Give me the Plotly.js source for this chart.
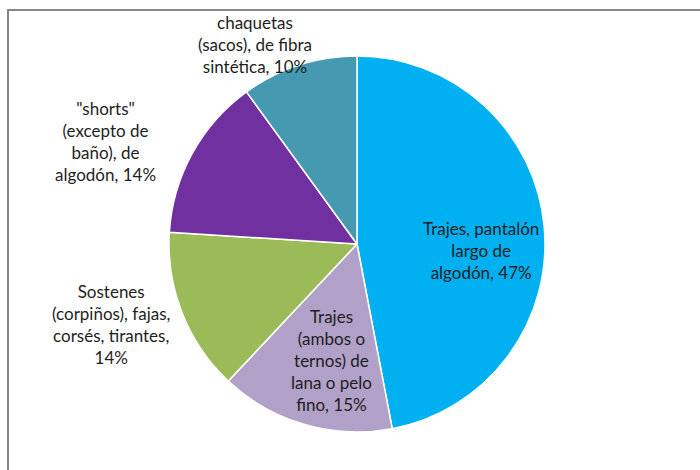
<!DOCTYPE html>
<html>
<head>
<meta charset="utf-8">
<script src="https://cdn.plot.ly/plotly-3.0.1.min.js"></script>
<style>html,body{margin:0;padding:0;background:#fff;}#chart{width:700px;height:470px;}</style>
</head>
<body>
<div id="chart"></div>
<script>
// Data
var categories = [
  "Trajes, pantalón<br>largo de<br>algodón",
  "Trajes<br>(ambos o<br>ternos) de<br>lana o pelo<br>fino",
  "Sostenes<br>(corpiños), fajas,<br>corsés, tirantes,",
  "\"shorts\"<br>(excepto de<br>baño), de<br>algodón",
  "chaquetas<br>(sacos), de fibra<br>sintética"
];
var shares = [47, 15, 14, 14, 10];
var colors = ["#00B0F0", "#B1A0C7", "#9BBB59", "#7030A0", "#4599B1"];
// label centre positions in pixels (layout only)
var labelPos = [[481, 250], [331, 360], [111, 324], [105, 141], [255, 45]];

var W = 700, H = 470;
var cx = 357, cy = 244, r = 188;

var annotations = categories.map(function (c, i) {
  var sep = (i === 2) ? "<br>" : ", ";
  return {
    text: c + sep + shares[i] + "%",
    xref: "paper", yref: "paper",
    x: labelPos[i][0] / W, y: 1 - labelPos[i][1] / H,
    xanchor: "center", yanchor: "middle",
    align: "center", showarrow: false,
    font: {family: "Lato, 'Open Sans', sans-serif", size: 17, color: "#1e1e1e"}
  };
});

var trace = {
  type: "pie",
  labels: categories,
  values: shares,
  sort: false,
  direction: "clockwise",
  rotation: 0,
  textinfo: "none",
  hoverinfo: "label+percent",
  marker: {colors: colors, line: {color: "#ffffff", width: 1.5}},
  domain: {x: [(cx - r) / W, (cx + r) / W], y: [(H - cy - r) / H, (H - cy + r) / H]},
  showlegend: false
};

var layout = {
  width: W, height: H,
  margin: {l: 0, r: 0, t: 0, b: 0},
  paper_bgcolor: "#ffffff",
  showlegend: false,
  annotations: annotations,
  shapes: [{
    type: "rect", xref: "paper", yref: "paper",
    x0: 8 / W, x1: 1.05, y0: -0.05, y1: 1 - 10 / H,
    line: {color: "#868686", width: 2}, fillcolor: "rgba(0,0,0,0)"
  }]
};

Plotly.newPlot("chart", [trace], layout, {displayModeBar: false, staticPlot: true});
</script>
</body>
</html>
